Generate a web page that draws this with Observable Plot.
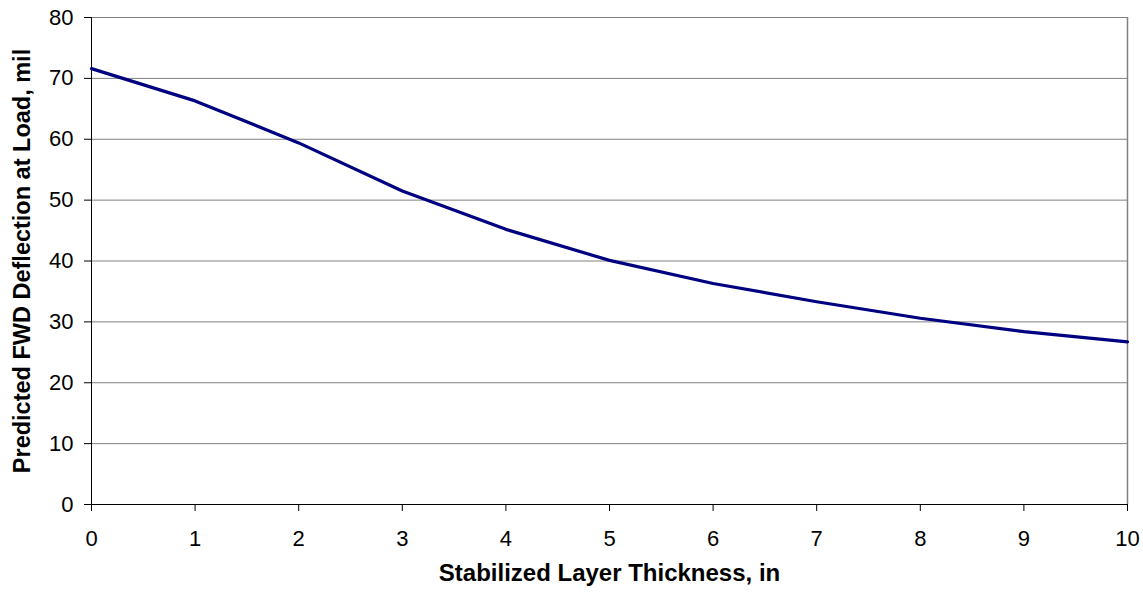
<!DOCTYPE html>
<html>
<head>
<meta charset="utf-8">
<script src="https://cdn.jsdelivr.net/npm/d3@7"></script>
<script src="https://cdn.jsdelivr.net/npm/@observablehq/plot@0.6"></script>
<style>
  html, body { margin: 0; padding: 0; background: #fff; }
  svg { display: block; }
</style>
</head>
<body>
<div id="chart"></div>
<script>
const thickness = [0, 1, 2, 3, 4, 5, 6, 7, 8, 9, 10];
const deflection = [71.6, 66.3, 59.4, 51.5, 45.2, 40.1, 36.3, 33.3, 30.6, 28.4, 26.7];
const xTicks = [0, 1, 2, 3, 4, 5, 6, 7, 8, 9, 10];
const yTicks = [0, 10, 20, 30, 40, 50, 60, 70, 80];
const xTitle = "Stabilized Layer Thickness, in";
const yTitle = "Predicted FWD Deflection at Load, mil";

const data = thickness.map((t, i) => ({t, d: deflection[i]}));

const chart = Plot.plot({
  width: 1143,
  height: 595,
  marginLeft: 91,
  marginRight: 16,
  marginTop: 17,
  marginBottom: 91,
  style: {fontFamily: "'Liberation Sans', Arial, sans-serif", fontSize: "22px", color: "#000", background: "#fff"},
  x: {domain: [0, 10]},
  y: {domain: [0, 80]},
  marks: [
    Plot.gridY(yTicks.filter(v => v > 0), {stroke: "#808080", strokeOpacity: 1, strokeWidth: 1}),
    Plot.ruleX([10], {stroke: "#808080", strokeWidth: 1.5}),
    Plot.ruleX([0], {stroke: "#000", strokeWidth: 1}),
    Plot.ruleY([0], {stroke: "#000", strokeWidth: 1}),
    Plot.axisY(yTicks, {tickSize: 7, tickPadding: 11, label: null, fontSize: 22, stroke: "#000"}),
    Plot.axisX(xTicks, {tickSize: 7, tickPadding: 19, label: null, fontSize: 22, stroke: "#000"}),
    Plot.line(data, {x: "t", y: "d", stroke: "#000080", strokeWidth: 3.2}),
    Plot.text([yTitle], {frameAnchor: "left", rotate: -90, dx: -69, textAnchor: "middle", fontWeight: "bold", fontSize: 23.5, fill: "#000"}),
    Plot.text([xTitle], {frameAnchor: "bottom", dy: 76, textAnchor: "middle", fontWeight: "bold", fontSize: 24, fill: "#000"})
  ]
});
document.getElementById("chart").appendChild(chart);
</script>
</body>
</html>
